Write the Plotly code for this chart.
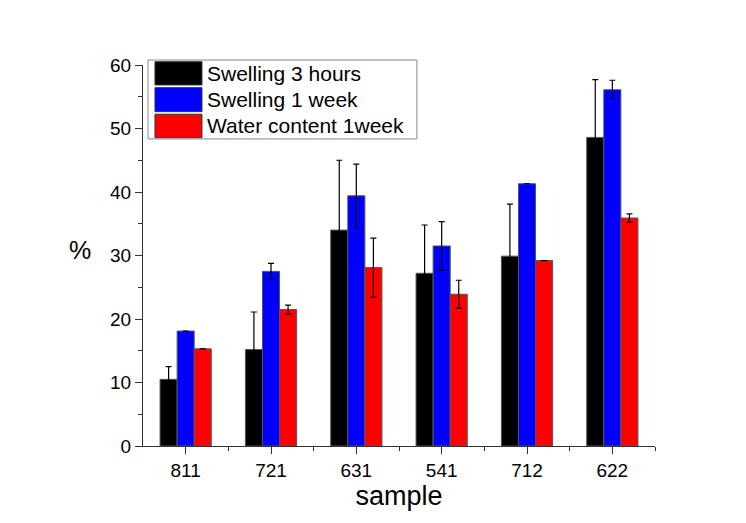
import plotly.graph_objects as go

categories = ["811", "721", "631", "541", "712", "622"]
series_names = ["Swelling 3 hours", "Swelling 1 week", "Water content 1week"]
swelling_3h = [10.5, 15.2, 34.0, 27.2, 29.9, 48.6]
swelling_3h_err = [2.0, 5.9, 11.0, 7.6, 8.2, 9.1]
swelling_1w = [18.1, 27.5, 39.4, 31.5, 41.3, 56.1]
swelling_1w_err = [0.0, 1.25, 5.0, 3.85, 0.0, 1.5]
water_1w = [15.3, 21.5, 28.1, 23.9, 29.2, 35.9]
water_1w_err = [0.0, 0.7, 4.65, 2.2, 0.0, 0.65]
colors = ["#000000", "#0000ff", "#ff0000"]
y_ticks = [0, 10, 20, 30, 40, 50, 60]

FONT = "Arial, Liberation Sans, sans-serif"
xpos = list(range(len(categories)))

fig = go.Figure()
for name, vals, errs, col in zip(series_names,
                                 [swelling_3h, swelling_1w, water_1w],
                                 [swelling_3h_err, swelling_1w_err, water_1w_err],
                                 colors):
    fig.add_trace(go.Bar(
        x=xpos, y=vals, name=name,
        marker=dict(color=col, line=dict(color="#555555", width=1)),
        error_y=dict(type="data", array=errs, visible=True, color="#000000",
                     thickness=1.2, width=3),
        showlegend=False,
    ))

# page body has an 8px margin, so margins compensate for it
fig.update_layout(
    barmode="group", bargap=0.4, bargroupgap=0,
    width=746, height=523,
    margin=dict(l=135, r=99, t=57, b=84.5),
    paper_bgcolor="white", plot_bgcolor="white",
    font=dict(family=FONT, size=19, color="black"),
)
fig.update_xaxes(
    range=[-0.5, len(categories) - 0.5],
    tickmode="array", tickvals=xpos, ticktext=categories,
    ticks="outside", ticklen=7, tickwidth=1, tickcolor="#333",
    showline=True, linecolor="#333", linewidth=1.2,
    showgrid=False, zeroline=False,
    tickfont=dict(size=19),
    minor=dict(tickmode="array", tickvals=[i + 0.5 for i in xpos],
               ticks="outside", ticklen=4, tickwidth=1, tickcolor="#333"),
    title=dict(text="sample", font=dict(size=27), standoff=4),
)
fig.update_yaxes(
    range=[0, 60],
    tickmode="array", tickvals=y_ticks,
    ticks="outside", ticklen=7, tickwidth=1, tickcolor="#333",
    showline=True, linecolor="#333", linewidth=1.2,
    showgrid=False, zeroline=False,
    tickfont=dict(size=19),
    minor=dict(tickmode="array", tickvals=[t + 5 for t in y_ticks[:-1]],
               ticks="outside", ticklen=4, tickwidth=1, tickcolor="#333"),
)

# "%" axis label (unrotated)
fig.add_annotation(text="%", xref="paper", yref="paper", x=-0.123, y=0.515,
                   showarrow=False, font=dict(size=25), xanchor="center", yanchor="middle")
# partially clipped panel title
fig.add_annotation(text="(a)", xref="paper", yref="paper", x=0.47, y=1.18,
                   showarrow=False, font=dict(size=24), xanchor="center", yanchor="bottom")

# custom legend with large swatches
fig.add_shape(type="rect", xref="paper", yref="paper", x0=0.0098, x1=0.535,
              y0=0.806, y1=1.013, line=dict(color="#888888", width=1),
              fillcolor="white", layer="above")
row_tops = [1.0086, 0.9405, 0.8708]
row_bots = [0.9476, 0.8776, 0.8094]
for name, col, t, b in zip(series_names, colors, row_tops, row_bots):
    fig.add_shape(type="rect", xref="paper", yref="paper", x0=0.0234, x1=0.1152,
                  y0=b, y1=t, line=dict(color="#333333", width=1),
                  fillcolor=col, layer="above")
    fig.add_annotation(text=name, xref="paper", yref="paper", x=0.122, y=(t + b) / 2,
                       showarrow=False, xanchor="left", yanchor="middle",
                       font=dict(size=21))

fig.write_html("out.html")
